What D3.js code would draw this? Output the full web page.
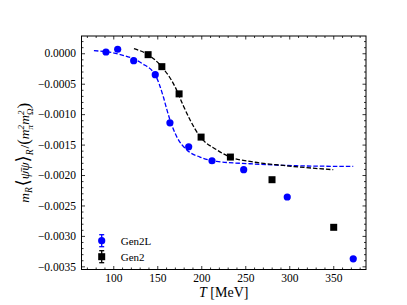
<!DOCTYPE html>
<html><head><meta charset="utf-8">
<script src="https://cdn.jsdelivr.net/npm/d3@7"></script>
<style>body{margin:0;background:#fff;} svg{display:block;font-family:"Liberation Serif","DejaVu Serif",serif;}</style>
</head><body>
<script>
// Gen2L data (blue circles)
const gen2lT = [91.7, 105, 123.2, 147.7, 164.4, 185.7, 212.2, 248.2, 297.7, 372.7];
const gen2lV = [0.000021, 0.000066, -0.000121, -0.000351, -0.001143, -0.001536, -0.001766, -0.001913, -0.002361, -0.003377];
// Gen2 data (black squares)
const gen2T = [139.6, 155.2, 174.8, 199.8, 233.1, 280.4, 350.5];
const gen2V = [-0.000023, -0.00022, -0.000667, -0.001377, -0.001705, -0.002077, -0.002859];
// fit curves
const fitLT = [78, 105.7, 132.3, 147.7, 156.8, 161, 164.4, 172, 183.4, 198.5, 217.5, 255.3, 308.4, 372.7];
const fitLV = [0.000043, -0.000012, -0.000164, -0.000356, -0.000711, -0.00093, -0.001093, -0.001367, -0.001585, -0.001705, -0.001777, -0.001815, -0.001848, -0.001859];
const fitT = [123.5, 139.4, 155, 170.1, 179.2, 187.2, 198.5, 217.5, 232.6, 255.3, 293.2, 350];
const fitV = [0.000075, -0.000023, -0.00022, -0.000548, -0.000848, -0.001093, -0.001367, -0.001585, -0.001705, -0.001777, -0.001843, -0.001913];
const xTicks = [100, 150, 200, 250, 300, 350];
const yTicks = [0, -0.0005, -0.001, -0.0015, -0.002, -0.0025, -0.003, -0.0035];
const seriesNames = ["Gen2L", "Gen2"];

const W = 407, H = 305;
const L = 81.5, R = 366, T = 36, B = 269.5;
const svg = d3.select("body").append("svg").attr("width", W).attr("height", H);
const x = d3.scaleLinear().domain([63.9, 387.2]).range([L, R]);
const y = d3.scaleLinear().domain([-0.003552, 0.0002836]).range([B, T]);

const xMinor = d3.range(70, 381, 10).filter(v => v % 50 !== 0);
const yMinor = d3.range(-35, 3, 1).map(v => v * 0.0001).filter((v, i) => Math.abs(Math.round(v * 10000)) % 5 !== 0);

const fs = 11.5;
function styleAxis(g) {
  g.select(".domain").remove();
  g.selectAll("line").attr("stroke", "#000").attr("stroke-width", 0.8);
  g.selectAll("text").attr("font-size", fs).attr("font-family", "Liberation Serif").attr("fill", "#000");
}
// bottom
svg.append("g").attr("transform", `translate(0,${B})`)
  .call(d3.axisBottom(x).tickValues(xTicks).tickSize(-3.5).tickPadding(4.5).tickFormat(d3.format("d"))).call(styleAxis);
svg.append("g").attr("transform", `translate(0,${B})`)
  .call(d3.axisBottom(x).tickValues(xMinor).tickSize(-2).tickFormat("")).call(styleAxis);
// top
svg.append("g").attr("transform", `translate(0,${T})`)
  .call(d3.axisTop(x).tickValues(xTicks).tickSize(-3.5).tickFormat("")).call(styleAxis);
svg.append("g").attr("transform", `translate(0,${T})`)
  .call(d3.axisTop(x).tickValues(xMinor).tickSize(-2).tickFormat("")).call(styleAxis);
// left
svg.append("g").attr("transform", `translate(${L},0)`)
  .call(d3.axisLeft(y).tickValues(yTicks).tickSize(-3.5).tickPadding(5.5).tickFormat(d => d === 0 ? "0.0000" : d3.format(".4f")(d))).call(styleAxis);
svg.append("g").attr("transform", `translate(${L},0)`)
  .call(d3.axisLeft(y).tickValues(yMinor).tickSize(-2).tickFormat("")).call(styleAxis);
// right
svg.append("g").attr("transform", `translate(${R},0)`)
  .call(d3.axisRight(y).tickValues(yTicks).tickSize(-3.5).tickFormat("")).call(styleAxis);
svg.append("g").attr("transform", `translate(${R},0)`)
  .call(d3.axisRight(y).tickValues(yMinor).tickSize(-2).tickFormat("")).call(styleAxis);

svg.append("rect").attr("x", L).attr("y", T).attr("width", R - L).attr("height", B - T)
  .attr("fill", "none").attr("stroke", "#000").attr("stroke-width", 1);

const line = d3.line().x(d => x(d[0])).y(d => y(d[1])).curve(d3.curveMonotoneX);
svg.append("path").datum(fitLT.map((t, i) => [t, fitLV[i]])).attr("d", line)
  .attr("fill", "none").attr("stroke", "#0000ff").attr("stroke-width", 1.3).attr("stroke-dasharray", "4.5,2");
svg.append("path").datum(fitT.map((t, i) => [t, fitV[i]])).attr("d", line)
  .attr("fill", "none").attr("stroke", "#000").attr("stroke-width", 1.3).attr("stroke-dasharray", "4.5,2");

svg.append("g").selectAll("circle").data(gen2lT.map((t, i) => [t, gen2lV[i]])).join("circle")
  .attr("cx", d => x(d[0])).attr("cy", d => y(d[1])).attr("r", 3.6).attr("fill", "#0000ff");
const s = 7;
svg.append("g").selectAll("rect").data(gen2T.map((t, i) => [t, gen2V[i]])).join("rect")
  .attr("x", d => x(d[0]) - s / 2).attr("y", d => y(d[1]) - s / 2).attr("width", s).attr("height", s).attr("fill", "#000");

// legend
const lg = svg.append("g");
const legY = [240.7, 256.7];
const legCol = ["#0000ff", "#000"];
seriesNames.forEach((name, i) => {
  const cy = legY[i], cx = 101.7, c = legCol[i];
  lg.append("line").attr("x1", cx).attr("x2", cx).attr("y1", cy - 6).attr("y2", cy + 6).attr("stroke", c).attr("stroke-width", 1.3);
  lg.append("line").attr("x1", cx - 2.5).attr("x2", cx + 2.5).attr("y1", cy - 6).attr("y2", cy - 6).attr("stroke", c).attr("stroke-width", 1.3);
  lg.append("line").attr("x1", cx - 2.5).attr("x2", cx + 2.5).attr("y1", cy + 6).attr("y2", cy + 6).attr("stroke", c).attr("stroke-width", 1.3);
  if (i === 0) lg.append("circle").attr("cx", cx).attr("cy", cy).attr("r", 3.6).attr("fill", c);
  else lg.append("rect").attr("x", cx - s / 2).attr("y", cy - s / 2).attr("width", s).attr("height", s).attr("fill", c);
  lg.append("text").attr("x", 120.7).attr("y", cy + 3.8).attr("font-size", 11).text(name);
});

// x label
const xl = svg.append("text").attr("x", (L + R) / 2).attr("y", 297).attr("text-anchor", "middle").attr("font-size", 14);
xl.append("tspan").attr("font-style", "italic").text("T");
xl.append("tspan").text(" [MeV]");

// y label
const yl = svg.append("text").attr("transform", `translate(29,${(T + B) / 2}) rotate(-90)`)
  .attr("text-anchor", "middle").attr("font-size", 13.5);
yl.append("tspan").attr("font-style", "italic").text("m");
yl.append("tspan").attr("font-style", "italic").attr("font-size", 9.5).attr("dy", 3).text("R");
yl.append("tspan").attr("font-size", 18).attr("dy", -3).attr("dx", 1).text("⟨");
yl.append("tspan").attr("font-style", "italic").text("ψ̄ψ");
yl.append("tspan").attr("font-size", 18).text("⟩");
yl.append("tspan").attr("font-style", "italic").attr("font-size", 9.5).attr("dy", 4).text("R");
yl.append("tspan").attr("dy", -4).attr("dx", 1).text("/");
yl.append("tspan").attr("font-size", 17).text("(");
yl.append("tspan").attr("font-style", "italic").text("m");
yl.append("tspan").attr("font-style", "italic").attr("font-size", 9).attr("dy", -5.5).text("2");
yl.append("tspan").attr("font-style", "italic").attr("font-size", 9).attr("dx", -4.5).attr("dy", 9).text("π");
yl.append("tspan").attr("font-style", "italic").attr("dy", -3.5).text("m");
yl.append("tspan").attr("font-style", "italic").attr("font-size", 9).attr("dy", -5.5).text("2");
yl.append("tspan").attr("font-size", 9).attr("dx", -4.5).attr("dy", 9).text("Ω");
yl.append("tspan").attr("font-size", 17).attr("dy", -3.5).text(")");
</script>
</body></html>
